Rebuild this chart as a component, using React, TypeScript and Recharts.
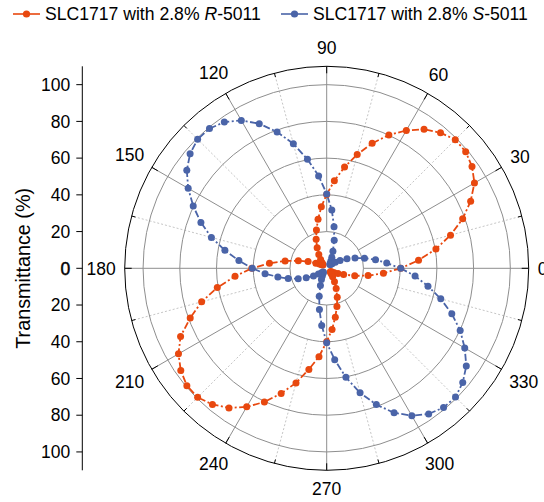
import React from 'react';
import {
  RadarChart,
  Radar,
  PolarGrid,
  PolarAngleAxis,
  PolarRadiusAxis,
  Legend,
  ScatterChart,
  Scatter,
  XAxis,
  YAxis,
} from 'recharts';

// ---------- data ----------
const angles = [
  0, 5, 10, 15, 20, 25, 30, 35, 40, 45, 50, 55, 60, 65, 70, 75, 80, 85,
  90, 95, 100, 105, 110, 115, 120, 125, 130, 135, 140, 145, 150, 155, 160, 165, 170, 175,
  180, 185, 190, 195, 200, 205, 210, 215, 220, 225, 230, 235, 240, 245, 250, 255, 260, 265,
  270, 275, 280, 285, 290, 295, 300, 305, 310, 315, 320, 325, 330, 335, 340, 345, 350, 355,
];

const rSeries = [
  40.3, 50.2, 60.4, 69.8, 78.8, 86.5, 92.9, 96.6, 98.8, 99.0, 96.4, 92.4, 86.7, 80.1, 72.4, 64.2, 56.0, 47.9,
  40.2, 33.6, 27.1, 21.6, 16.8, 12.3, 8.6, 5.8, 3.9, 2.9, 2.7, 3.4, 4.6, 6.5, 10.8, 16.0, 23.0, 31.3,
  40.8, 50.1, 60.5, 70.5, 79.1, 87.8, 93.2, 97.0, 99.4, 99.4, 96.8, 92.8, 87.1, 80.3, 72.5, 64.6, 55.9, 48.3,
  40.0, 33.4, 27.0, 21.5, 16.8, 12.2, 8.5, 5.6, 3.8, 2.8, 2.8, 3.5, 4.8, 6.8, 9.8, 15.8, 22.9, 31.0,
];

const sSeries = [
  40.3, 32.8, 27.0, 21.3, 16.4, 12.2, 8.4, 5.7, 3.8, 2.9, 2.7, 3.3, 4.6, 6.6, 9.9, 15.8, 23.0, 31.9,
  40.5, 50.5, 60.3, 70.2, 79.0, 86.9, 93.0, 97.2, 99.3, 99.4, 97.1, 93.0, 87.1, 80.2, 72.9, 65.0, 56.3, 48.0,
  40.5, 33.7, 27.0, 21.7, 16.5, 12.3, 8.3, 5.5, 3.7, 2.8, 2.8, 3.5, 4.8, 6.8, 10.0, 15.7, 22.8, 31.2,
  40.5, 50.0, 60.3, 70.2, 79.0, 86.8, 92.7, 96.8, 99.0, 99.2, 96.7, 92.8, 86.8, 80.2, 72.5, 64.3, 56.0, 48.3,
];

const majorSpokes = [0, 30, 60, 90, 120, 150, 180, 210, 240, 270, 300, 330];
const minorSpokes = [15, 45, 75, 105, 135, 165, 195, 225, 255, 285, 315, 345];
const radialTicks = [0, 20, 40, 60, 80, 100];
const yTicks = [-100, -80, -60, -40, -20, 0, 20, 40, 60, 80, 100];
const seriesLetters = ['R', 'S'];

// The angle axis runs clockwise (360 -> 0) so that category i lands exactly on its angle;
// the table is therefore ordered 0, 355, 350, ... 5.
const order = angles.map((_, i) => (i === 0 ? 0 : angles.length - i));
const data = order.map((k) => ({ angle: angles[k], r: rSeries[k], s: sSeries[k] }));

// ---------- layout / style ----------
const W = 544;
const H = 502;
const CX = 326.7;
const CY = 268.3;
const R = 202;
const R_MAX = 110;
const FONT = '"Liberation Sans", Arial, Helvetica, sans-serif';
const FS = 17.5;
const RED = '#E8480F';
const BLUE = '#4A64A8';
const GRID = '#8e8e8e';
const DOTGRID = '#c6c6c6';
const seriesColors = [RED, BLUE];

const AngleTick = (props: any) => {
  const payload = props.payload || {};
  const value = Number(payload.value);
  if (!(value % 15 === 0)) return <g />;
  const coord = typeof payload.coordinate === 'number' ? payload.coordinate : value;
  const rad = (coord * Math.PI) / 180;
  const ux = Math.cos(rad);
  const uy = -Math.sin(rad);
  const major = value % 30 === 0;
  const len = major ? 7 : 4;
  const x1 = CX + R * ux;
  const y1 = CY + R * uy;
  const x2 = CX + (R - len) * ux;
  const y2 = CY + (R - len) * uy;
  let label = null;
  if (major) {
    const txt = String(value);
    const w = txt.length * 0.556 * FS;
    const h = 0.716 * FS;
    const gap = 9 * ux * ux + 12 * uy * uy;
    const d = R + gap + (w / 2) * Math.abs(ux) + (h / 2) * Math.abs(uy);
    const lx = CX + d * ux;
    const ly = CY + d * uy + h / 2;
    label = (
      <text x={lx} y={ly} textAnchor="middle" fontSize={FS} fontFamily={FONT} fill="#000">
        {txt}
      </text>
    );
  }
  return (
    <g>
      <line x1={x1} y1={y1} x2={x2} y2={y2} stroke="#000" strokeWidth={1} />
      {label}
    </g>
  );
};

const YTick = (p: any) => {
  const v = Number(p?.payload?.value);
  const zero = v === 0;
  return (
    <text
      x={p.x}
      y={p.y}
      dy="0.355em"
      textAnchor="end"
      fontSize={FS}
      fontFamily={FONT}
      fill="#000"
      stroke={zero ? '#000' : 'none'}
      strokeWidth={zero ? 0.45 : 0}
    >
      {String(Math.abs(v))}
    </text>
  );
};

const makeDot = (color: string) => (p: any) => {
  if (p == null || typeof p.cx !== 'number' || typeof p.cy !== 'number') return <g key={`d-${p?.index}`} />;
  return <circle key={`d-${color}-${p.index}`} cx={p.cx} cy={p.cy} r={3.5} fill={color} stroke="none" />;
};

const LegendContent = () => {
  const xs = [13, 281];
  return (
    <div style={{ position: 'relative', width: W, height: 24, fontFamily: FONT, fontSize: 17.6, color: '#000' }}>
      {seriesLetters.map((letter, i) => (
        <div
          key={letter}
          style={{ position: 'absolute', left: xs[i], top: 0, display: 'flex', alignItems: 'center', whiteSpace: 'nowrap', lineHeight: '20px' }}
        >
          <svg width={27} height={12} style={{ display: 'block' }}>
            <line x1={0} y1={6} x2={27} y2={6} stroke={seriesColors[i]} strokeWidth={1.6} />
            <circle cx={13.5} cy={6} r={3.6} fill={seriesColors[i]} />
          </svg>
          <span style={{ marginLeft: 5 }}>
            SLC1717 with 2.8% <i>{letter}</i>-5011
          </span>
        </div>
      ))}
    </div>
  );
};

const AxisTitle = (props: any) => {
  const vb = props.viewBox || { x: 12.3, y: CY - R, width: 70, height: 2 * R };
  const x = (vb.x ?? 12.3) + 10.5;
  const y = (vb.y ?? CY - R) + (vb.height ?? 2 * R) / 2;
  return (
    <text
      x={x}
      y={y}
      transform={`rotate(-90 ${x} ${y})`}
      textAnchor="middle"
      dominantBaseline="central"
      fontSize={19.8}
      fontFamily={FONT}
      fill="#000"
    >
      Transmittance (%)
    </text>
  );
};

const layer: React.CSSProperties = { position: 'absolute', left: 0, top: 0, width: W, height: H };

export default function App() {
  return (
    <div style={{ position: 'absolute', left: 0, top: 0, width: W, height: H, background: '#fff', overflow: 'hidden' }}>
      {/* solid spokes, starting at radius 20 */}
      <div style={layer}>
        <RadarChart
          width={W}
          height={H}
          cx={CX}
          cy={CY}
          innerRadius={(R * radialTicks[1]) / R_MAX}
          outerRadius={R}
          startAngle={360}
          endAngle={0}
          data={data}
          margin={{ top: 0, right: 0, bottom: 0, left: 0 }}
        >
          <PolarGrid gridType="circle" polarAngles={majorSpokes} polarRadius={[]} stroke={GRID} strokeWidth={1} />
        </RadarChart>
      </div>
      {/* dotted spokes, starting at radius 40 */}
      <div style={layer}>
        <RadarChart
          width={W}
          height={H}
          cx={CX}
          cy={CY}
          innerRadius={(R * radialTicks[2]) / R_MAX}
          outerRadius={R}
          startAngle={360}
          endAngle={0}
          data={data}
          margin={{ top: 0, right: 0, bottom: 0, left: 0 }}
        >
          <PolarGrid
            gridType="circle"
            polarAngles={minorSpokes}
            polarRadius={[]}
            stroke={DOTGRID}
            strokeWidth={1}
            strokeDasharray="2 2"
          />
        </RadarChart>
      </div>
      {/* main chart */}
      <div style={layer}>
        <RadarChart
          width={W}
          height={H}
          cx={CX}
          cy={CY}
          outerRadius={R}
          startAngle={360}
          endAngle={0}
          data={data}
          margin={{ top: 0, right: 0, bottom: 0, left: 0 }}
        >
          <PolarGrid gridType="circle" radialLines={false} stroke={GRID} strokeWidth={1} />
          <PolarAngleAxis
            dataKey="angle"
            axisLineType="circle"
            axisLine={{ stroke: '#000', strokeWidth: 1 }}
            tickLine={false}
            tick={AngleTick}
          />
          <PolarRadiusAxis
            type="number"
            domain={[0, R_MAX]}
            ticks={radialTicks as any}
            allowDataOverflow
            tick={false}
            axisLine={false}
          />
          <Radar
            dataKey="r"
            stroke={RED}
            strokeWidth={1.8}
            strokeDasharray="7 2.5 2 2.5"
            fill="none"
            fillOpacity={0}
            dot={makeDot(RED)}
            isAnimationActive={false}
          />
          <Radar
            dataKey="s"
            stroke={BLUE}
            strokeWidth={1.8}
            strokeDasharray="7 2.5 2 2.5"
            fill="none"
            fillOpacity={0}
            dot={makeDot(BLUE)}
            isAnimationActive={false}
          />
          <Legend
            verticalAlign="top"
            align="left"
            content={<LegendContent />}
            wrapperStyle={{ top: 4, left: 0, width: W, height: 24 }}
          />
        </RadarChart>
      </div>
      {/* left linear axis */}
      <div style={layer}>
        <ScatterChart
          width={W}
          height={H}
          margin={{ top: CY - R, right: 0, bottom: H - (CY + R), left: 12.3 }}
        >
          <XAxis type="number" dataKey="x" hide domain={[0, 1]} />
          <YAxis
            type="number"
            dataKey="y"
            domain={[-R_MAX, R_MAX]}
            ticks={yTicks}
            interval={0}
            allowDataOverflow
            width={70}
            tickSize={6}
            tickMargin={6}
            stroke="#000"
            tick={YTick}
            label={<AxisTitle />}
          />
          <Scatter data={[]} dataKey="y" isAnimationActive={false} />
        </ScatterChart>
      </div>
    </div>
  );
}
